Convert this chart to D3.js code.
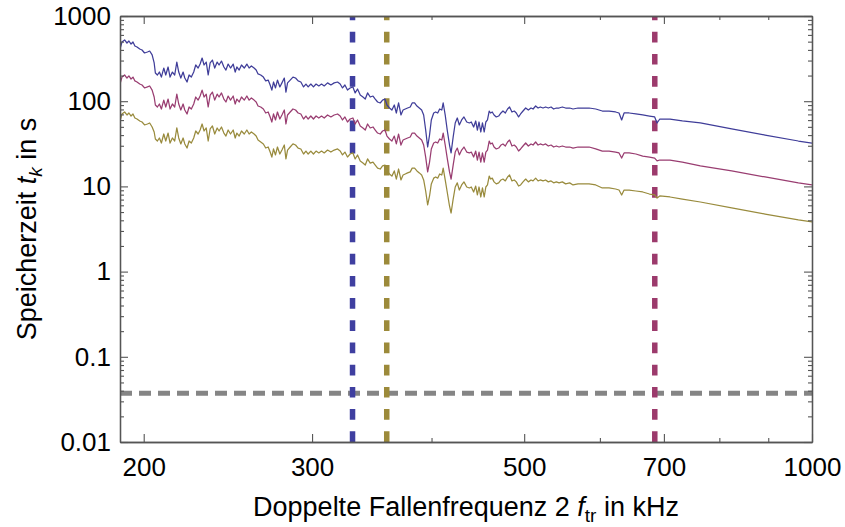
<!DOCTYPE html>
<html>
<head>
<meta charset="utf-8">
<script src="https://cdn.jsdelivr.net/npm/d3@7"></script>
<style>
  html, body { margin: 0; padding: 0; background: #fff; }
  svg { display: block; }
  text { font-family: "Liberation Sans", Arial, sans-serif; fill: #000; }
</style>
</head>
<body>
<svg id="chart" width="845" height="527"></svg>
<script>
// Doubled trap frequency 2 f_tr in kHz
const freq = [
  188.9, 189.8, 191.0, 192.1, 193.0, 194.0, 194.9, 195.8, 196.8, 198.1,
  199.2, 200.4, 201.8, 202.9, 204.1, 205.1, 205.7, 206.7, 207.7, 208.7,
  209.9, 210.9, 212.1, 213.1, 214.3, 215.5, 216.6, 217.6, 218.7, 219.9,
  220.8, 222.0, 223.1, 224.3, 225.6, 226.7, 228.0, 229.1, 230.2, 231.3,
  232.5, 233.6, 234.7, 236.0, 237.3, 238.7, 239.8, 241.2, 242.6, 243.8,
  245.1, 246.5, 248.1, 249.3, 250.3, 251.7, 253.1, 254.8, 256.4, 257.8,
  259.2, 260.9, 262.2, 263.4, 265.1, 266.8, 268.3, 269.9, 271.2, 272.3,
  273.4, 274.7, 276.0, 277.6, 279.0, 280.6, 281.7, 282.8, 284.6, 286.5,
  288.3, 290.1, 292.0, 293.9, 295.6, 297.2, 299.1, 301.0, 302.9, 304.9,
  306.9, 308.9, 311.4, 313.9, 316.4, 319.0, 321.0, 322.8, 324.7, 326.7,
  328.8, 331.0, 332.8, 334.7, 336.9, 339.1, 341.0, 342.9, 345.1, 347.4,
  349.3, 351.3, 353.5, 355.5, 357.6, 359.3, 361.5, 363.6, 365.7, 367.5,
  369.5, 371.6, 373.5, 375.5, 377.6, 380.0, 381.8, 384.0, 386.2, 388.4,
  390.6, 392.5, 394.4, 396.3, 398.1, 399.8, 402.1, 404.0, 406.0, 407.9,
  410.0, 411.4, 413.4, 415.4, 417.7, 419.3, 421.4, 423.5, 425.6, 427.7,
  430.1, 432.5, 435.4, 438.2, 440.2, 442.7, 444.9, 446.7, 448.5, 450.4,
  452.2, 454.1, 455.9, 457.7, 459.6, 461.1, 463.0, 465.0, 467.5, 470.2,
  472.8, 475.1, 477.8, 480.4, 482.7, 485.5, 488.2, 490.6, 493.3, 495.7,
  498.6, 501.8, 505.0, 508.3, 510.8, 514.0, 517.0, 519.8, 523.2, 526.5,
  529.9, 533.4, 536.8, 540.3, 543.8, 548.1, 552.5, 557.9, 562.4, 569.2,
  576.2, 584.6, 594.0, 603.5, 613.4, 623.1, 628.3, 632.3, 636.0, 643.8,
  654.3, 665.2, 676.1, 684.6, 688.6, 693.1, 710.4, 731.8, 764.2, 824.1,
  893.2, 967.7, 1000
];

// Storage time t_k in s, one array per curve
const tBlue = [
  410, 495, 523, 482, 509, 469, 495, 445, 433, 410,
  399, 368, 378, 388, 349, 281, 214, 203, 220, 192,
  245, 203, 252, 192, 220, 203, 288, 220, 187, 220,
  187, 168, 203, 192, 220, 266, 245, 273, 321, 266,
  288, 203, 281, 304, 245, 288, 266, 296, 252, 232,
  273, 245, 273, 220, 252, 232, 266, 245, 273, 245,
  259, 245, 232, 209, 203, 192, 173, 177, 155, 135,
  168, 143, 177, 147, 164, 187, 128, 164, 177, 192,
  187, 173, 168, 147, 159, 147, 159, 147, 159, 151,
  159, 151, 164, 155, 164, 168, 159, 143, 155, 135,
  143, 147, 125, 139, 118, 112, 106, 125, 112, 115,
  106, 97.9, 95.3, 103, 106, 90.2, 83.2, 78.8, 90.2, 72.7,
  95.3, 68.9, 78.8, 81.0, 83.2, 85.5, 95.3, 95.3, 87.8, 83.2,
  78.8, 68.9, 45.9, 29.0, 40.1, 60.2, 72.7, 74.7, 72.7, 81.0,
  78.8, 95.3, 68.9, 45.9, 30.6, 24.7, 38.0, 55.5, 63.5, 52.6,
  60.2, 65.3, 57.0, 55.5, 57.0, 49.8, 58.6, 45.9, 57.0, 43.5,
  55.5, 43.5, 57.0, 60.2, 76.7, 72.7, 74.7, 68.9, 65.3, 67.0,
  72.7, 76.7, 72.7, 81.0, 85.5, 74.7, 76.7, 72.7, 65.3, 70.8,
  76.7, 83.2, 78.8, 83.2, 81.0, 87.8, 83.2, 85.5, 83.2, 85.5,
  83.2, 85.5, 81.0, 83.2, 83.2, 85.5, 83.2, 83.2, 81.0, 83.2,
  83.2, 83.2, 81.0, 76.7, 76.7, 74.7, 72.7, 60.2, 72.7, 72.7,
  70.8, 68.9, 67.0, 65.3, 55.5, 61.8, 61.8, 58.6, 55.5, 47.2,
  40.1, 34.1, 32.3
];

const tMagenta = [
  159, 192, 203, 187, 198, 182, 192, 173, 168, 159,
  155, 143, 147, 151, 135, 112, 90.2, 85.5, 92.7, 81.0,
  103, 85.5, 106, 81.0, 92.7, 85.5, 121, 92.7, 78.8, 92.7,
  78.8, 70.8, 85.5, 81.0, 92.7, 112, 103, 115, 135, 112,
  121, 85.5, 118, 128, 103, 121, 112, 125, 106, 97.9,
  115, 103, 115, 92.7, 106, 97.9, 112, 103, 115, 103,
  109, 103, 97.9, 87.8, 85.5, 81.0, 72.7, 74.7, 65.3, 57.0,
  70.8, 60.2, 74.7, 61.8, 68.9, 78.8, 54.0, 68.9, 74.7, 81.0,
  78.8, 72.7, 70.8, 61.8, 67.0, 61.8, 67.0, 61.8, 67.0, 63.5,
  67.0, 63.5, 68.9, 65.3, 68.9, 70.8, 67.0, 60.2, 65.3, 57.0,
  61.8, 63.5, 54.0, 60.2, 51.2, 48.5, 45.9, 54.0, 48.5, 49.8,
  45.9, 42.3, 41.2, 44.7, 45.9, 39.0, 36.0, 34.1, 39.0, 31.5,
  41.2, 30.6, 35.0, 36.0, 37.0, 38.0, 42.3, 42.3, 39.0, 37.0,
  35.0, 30.6, 22.1, 14.8, 19.3, 27.5, 32.3, 33.2, 32.3, 36.0,
  35.0, 42.3, 30.6, 21.5, 14.8, 12.2, 17.8, 25.3, 28.2, 23.4,
  26.7, 29.0, 25.3, 24.7, 25.3, 22.1, 26.0, 20.4, 25.3, 19.3,
  24.7, 19.3, 25.3, 26.7, 34.1, 31.5, 32.3, 29.0, 27.5, 28.2,
  30.6, 31.5, 29.8, 33.2, 35.0, 29.8, 30.6, 29.0, 26.0, 27.5,
  29.8, 32.3, 29.8, 31.5, 30.6, 33.2, 30.6, 31.5, 30.6, 31.5,
  29.8, 30.6, 29.0, 29.8, 29.0, 29.8, 29.0, 29.0, 28.2, 29.0,
  29.0, 29.0, 27.5, 26.0, 26.0, 25.3, 24.7, 21.5, 24.7, 24.7,
  24.0, 22.7, 22.1, 21.5, 19.9, 20.4, 20.4, 19.3, 17.4, 15.2,
  12.9, 11.0, 10.4
];

const tOlive = [
  58.6, 70.8, 74.7, 68.9, 72.7, 67.0, 70.8, 63.5, 61.8, 58.6,
  57.0, 52.6, 54.0, 55.5, 49.8, 43.5, 36.0, 34.1, 37.0, 32.3,
  41.2, 34.1, 42.3, 32.3, 37.0, 34.1, 48.5, 37.0, 31.5, 37.0,
  31.5, 28.2, 34.1, 32.3, 37.0, 44.7, 41.2, 45.9, 54.0, 44.7,
  48.5, 34.1, 47.2, 51.2, 41.2, 48.5, 44.7, 49.8, 42.3, 39.0,
  45.9, 41.2, 45.9, 37.0, 42.3, 39.0, 44.7, 41.2, 45.9, 41.2,
  43.5, 41.2, 39.0, 35.0, 33.2, 31.5, 28.2, 29.0, 25.3, 22.1,
  27.5, 23.4, 29.0, 24.0, 26.7, 30.6, 21.0, 26.7, 29.0, 31.5,
  30.6, 28.2, 27.5, 24.0, 26.0, 24.0, 26.0, 24.0, 26.0, 24.7,
  26.0, 24.7, 26.7, 25.3, 26.7, 27.5, 26.0, 23.4, 25.3, 22.1,
  24.0, 24.7, 21.0, 23.4, 19.9, 18.8, 17.8, 21.0, 18.8, 19.3,
  17.8, 16.4, 16.0, 17.4, 17.8, 15.2, 14.0, 13.2, 15.2, 12.2,
  16.0, 11.9, 13.6, 14.0, 14.4, 14.8, 16.4, 16.4, 15.2, 14.4,
  13.6, 11.9, 8.83, 6.05, 7.72, 10.7, 12.5, 12.9, 12.5, 14.0,
  13.6, 16.4, 11.9, 8.60, 5.89, 4.87, 7.11, 9.84, 11.0, 9.07,
  10.4, 11.3, 9.84, 9.58, 9.84, 8.60, 10.1, 7.93, 9.84, 7.51,
  9.58, 7.51, 9.84, 10.4, 13.2, 12.2, 12.5, 11.3, 10.7, 11.0,
  11.9, 12.2, 11.6, 12.9, 13.6, 11.6, 11.9, 11.3, 10.1, 10.4,
  11.3, 12.2, 11.3, 11.9, 11.6, 12.5, 11.6, 11.9, 11.6, 11.9,
  11.3, 11.6, 11.0, 11.3, 11.0, 11.3, 10.7, 11.0, 10.4, 10.7,
  10.7, 10.7, 10.4, 9.58, 9.58, 9.32, 9.07, 7.93, 9.07, 9.07,
  8.83, 8.60, 8.14, 7.93, 7.31, 7.72, 7.51, 7.11, 6.56, 5.58,
  4.74, 4.04, 3.83
];

// Marker frequencies (vertical dashed lines) and the horizontal limit
const markerFreq = [330.7, 359.1, 684.8];
const markerColor = ["#3f3fa0", "#9c8a3a", "#9c3a6c"];
const limitTime = 0.0373;

// Axis ticks
const xMajor = [200, 300, 500, 700, 1000];
const xMinor = [400, 600, 800, 900];
const yMajor = [0.01, 0.1, 1, 10, 100, 1000];
const yLabels = ["0.01", "0.1", "1", "10", "100", "1000"];

const series = [
  { values: tBlue,    color: "rgb(63,61,153)" },
  { values: tMagenta, color: "rgb(153,61,113)" },
  { values: tOlive,   color: "rgb(153,139,61)" }
];

const L = 120, R = 812, T = 16, B = 442;
const svg = d3.select("#chart");

const x = d3.scaleLog().domain([188.9, 1000]).range([L, R]);
const y = d3.scaleLog().domain([0.01, 1000]).range([B, T]);

const yMinor = [];
for (let e = -2; e < 3; e++) for (let m = 2; m <= 9; m++) yMinor.push(m * Math.pow(10, e));

svg.append("clipPath").attr("id", "plot-clip")
  .append("rect").attr("x", L).attr("y", T).attr("width", R - L).attr("height", B - T);

const plot = svg.append("g").attr("clip-path", "url(#plot-clip)");

// Horizontal limit line
plot.append("line")
  .attr("x1", L).attr("x2", R)
  .attr("y1", y(limitTime)).attr("y2", y(limitTime))
  .attr("stroke", "#858585").attr("stroke-width", 5)
  .attr("stroke-dasharray", "12,7");

// Vertical markers, dashed from the bottom up
plot.selectAll("line.marker").data(markerFreq).join("line")
  .attr("class", "marker")
  .attr("x1", d => x(d)).attr("x2", d => x(d))
  .attr("y1", B).attr("y2", T)
  .attr("stroke", (d, i) => markerColor[i])
  .attr("stroke-width", 5.5)
  .attr("stroke-dasharray", "10.7,11.5");

// Data curves
const line = d3.line()
  .x((d, i) => x(freq[i]))
  .y(d => y(d));

plot.selectAll("path.curve").data(series).join("path")
  .attr("class", "curve")
  .attr("fill", "none")
  .attr("stroke", d => d.color)
  .attr("stroke-width", 1.25)
  .attr("stroke-linejoin", "round")
  .attr("d", d => line(d.values));

// Frame axes with inward ticks on all four sides
const frameColor = "#555";
function styleAxis(g) {
  g.select(".domain").attr("stroke", frameColor).attr("stroke-width", 1.3);
  g.selectAll(".tick line").attr("stroke", frameColor).attr("stroke-width", 1.1);
}

const fmtX = d => String(d);
svg.append("g").attr("transform", `translate(0,${B})`)
  .call(d3.axisBottom(x).tickValues(xMajor).tickFormat(fmtX).tickSizeInner(-8).tickSizeOuter(0).tickPadding(16))
  .call(styleAxis)
  .call(g => g.selectAll("text").attr("font-size", 26).attr("font-family", "Liberation Sans, Arial, sans-serif").attr("fill", "#000"));
svg.append("g").attr("transform", `translate(0,${B})`)
  .call(d3.axisBottom(x).tickValues(xMinor).tickFormat("").tickSizeInner(-4).tickSizeOuter(0))
  .call(styleAxis);
svg.append("g").attr("transform", `translate(0,${T})`)
  .call(d3.axisTop(x).tickValues(xMajor).tickFormat("").tickSizeInner(-8).tickSizeOuter(0))
  .call(styleAxis);
svg.append("g").attr("transform", `translate(0,${T})`)
  .call(d3.axisTop(x).tickValues(xMinor).tickFormat("").tickSizeInner(-4).tickSizeOuter(0))
  .call(styleAxis);

svg.append("g").attr("transform", `translate(${L},0)`)
  .call(d3.axisLeft(y).tickValues(yMajor).tickFormat((d, i) => yLabels[i]).tickSizeInner(-8).tickSizeOuter(0).tickPadding(9))
  .call(styleAxis)
  .call(g => g.selectAll("text").attr("font-size", 26).attr("font-family", "Liberation Sans, Arial, sans-serif").attr("fill", "#000"));
svg.append("g").attr("transform", `translate(${L},0)`)
  .call(d3.axisLeft(y).tickValues(yMinor).tickFormat("").tickSizeInner(-4).tickSizeOuter(0))
  .call(styleAxis);
svg.append("g").attr("transform", `translate(${R},0)`)
  .call(d3.axisRight(y).tickValues(yMajor).tickFormat("").tickSizeInner(-8).tickSizeOuter(0))
  .call(styleAxis);
svg.append("g").attr("transform", `translate(${R},0)`)
  .call(d3.axisRight(y).tickValues(yMinor).tickFormat("").tickSizeInner(-4).tickSizeOuter(0))
  .call(styleAxis);

// Axis titles
const xTitle = svg.append("text")
  .attr("x", (L + R) / 2).attr("y", 516)
  .attr("text-anchor", "middle").attr("font-size", 27);
xTitle.append("tspan").text("Doppelte Fallenfrequenz 2 ");
xTitle.append("tspan").attr("font-style", "italic").text("f");
xTitle.append("tspan").attr("font-size", 19).attr("dy", 6).text("tr");
xTitle.append("tspan").attr("dy", -6).text(" in kHz");

const yTitle = svg.append("text")
  .attr("transform", `translate(36,${(T + B) / 2}) rotate(-90)`)
  .attr("text-anchor", "middle").attr("font-size", 27);
yTitle.append("tspan").text("Speicherzeit ");
yTitle.append("tspan").attr("font-style", "italic").text("t");
yTitle.append("tspan").attr("font-style", "italic").attr("font-size", 19).attr("dy", 6).text("k");
yTitle.append("tspan").attr("dy", -6).text(" in s");
</script>
</body>
</html>
